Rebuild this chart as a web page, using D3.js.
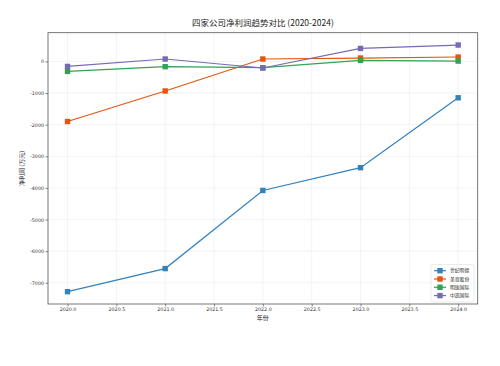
<!DOCTYPE html>
<html><head><meta charset="utf-8">
<script src="https://cdn.jsdelivr.net/npm/d3@7"></script>
<style>body{margin:0;background:#fff;} text{font-family:"Noto Sans CJK SC","DejaVu Sans",sans-serif;}</style>
</head><body>
<svg id="c" width="500" height="366"></svg>
<script>
const years = [2020, 2021, 2022, 2023, 2024];
const seriesNames = ["世纪明德", "美育股份", "明珠国际", "中凯国际"];
const shijiMingde = [-7280, -6550, -4080, -3360, -1150];
const meiyu = [-1900, -935, 76, 107, 139];
const mingzhu = [-316, -167, -199, 32, 11];
const zhongkai = [-158, 76, -208, 411, 518];
const colors = ["#3182bd", "#e6550d", "#31a354", "#756bb1"];
const yTicks = [-7000, -6000, -5000, -4000, -3000, -2000, -1000, 0];
const xTicks = [2020, 2020.5, 2021, 2021.5, 2022, 2022.5, 2023, 2023.5, 2024];
const title = "四家公司净利润趋势对比 (2020-2024)";
const xLabel = "年份", yLabel = "净利润 (万元)";

const allSeries = [shijiMingde, meiyu, mingzhu, zhongkai];
const L = 48, R = 477.7, T = 32.7, B = 304;
const svg = d3.select("#c");
const allVals = allSeries.flat();
const ymin = d3.min(allVals), ymax = d3.max(allVals);
const ym = (ymax - ymin) * 0.05;
const x = d3.scaleLinear().domain([2019.8, 2024.2]).range([L, R]);
const y = d3.scaleLinear().domain([ymin - ym, ymax + ym]).range([B, T]);

// grid
const g = svg.append("g");
g.selectAll(".gx").data(xTicks).enter().append("line")
 .attr("x1", d => x(d)).attr("x2", d => x(d)).attr("y1", T).attr("y2", B)
 .attr("stroke", "#ebebeb").attr("stroke-width", 0.6);
g.selectAll(".gy").data(yTicks).enter().append("line")
 .attr("y1", d => y(d)).attr("y2", d => y(d)).attr("x1", L).attr("x2", R)
 .attr("stroke", "#ebebeb").attr("stroke-width", 0.6);

// axes
const xAxis = svg.append("g").attr("transform", `translate(0,${B})`)
 .call(d3.axisBottom(x).tickValues(xTicks).tickFormat(d3.format(".1f")).tickSize(2.5).tickSizeOuter(0));
const yAxis = svg.append("g").attr("transform", `translate(${L},0)`)
 .call(d3.axisLeft(y).tickValues(yTicks).tickFormat(d => d).tickSize(2.5).tickSizeOuter(0));
[xAxis, yAxis].forEach(a => {
  a.select(".domain").remove();
  a.selectAll(".tick line").attr("stroke", "#333").attr("stroke-width", 0.6);
  a.selectAll(".tick text").attr("font-size", 4.8).attr("fill", "#333")
   .style("font-family", "'DejaVu Sans',sans-serif");
});
xAxis.selectAll(".tick text").attr("dy", "0.9em").attr("y", 3);
yAxis.selectAll(".tick text").attr("x", -4);

svg.append("rect").attr("x", L).attr("y", T).attr("width", R - L).attr("height", B - T)
 .attr("fill", "none").attr("stroke", "#555").attr("stroke-width", 0.8);

// lines
const line = d3.line().x((d, i) => x(years[i])).y(d => y(d));
allSeries.forEach((s, k) => {
  svg.append("path").datum(s).attr("d", line).attr("fill", "none")
   .attr("stroke", colors[k]).attr("stroke-width", 1.2);
  svg.selectAll(".m" + k).data(s).enter().append("rect")
   .attr("x", (d, i) => x(years[i]) - 2.7).attr("y", d => y(d) - 2.7)
   .attr("width", 5.4).attr("height", 5.4).attr("fill", colors[k]);
});

// title and labels
svg.append("text").attr("x", (L + R) / 2).attr("y", 26).attr("text-anchor", "middle")
 .attr("font-size", 8.5).attr("fill", "#222").text(title);
svg.append("text").attr("x", (L + R) / 2).attr("y", 320).attr("text-anchor", "middle")
 .attr("font-size", 6).attr("fill", "#222").text(xLabel);
svg.append("text").attr("transform", `translate(24,${(T + B) / 2}) rotate(-90)`)
 .attr("text-anchor", "middle").attr("font-size", 6).attr("fill", "#222").text(yLabel);

// legend
const lx = 431, ly = 264.5, lw = 43, lh = 37.5;
svg.append("rect").attr("x", lx).attr("y", ly).attr("width", lw).attr("height", lh)
 .attr("fill", "#fff").attr("fill-opacity", 0.85).attr("stroke", "#ddd").attr("stroke-width", 0.6).attr("rx", 1.5);
seriesNames.forEach((n, k) => {
  const yy = ly + 6.2 + k * 8.3;
  svg.append("line").attr("x1", lx + 3).attr("x2", lx + 15).attr("y1", yy).attr("y2", yy)
   .attr("stroke", colors[k]).attr("stroke-width", 1.2);
  svg.append("rect").attr("x", lx + 9 - 2.7).attr("y", yy - 2.7).attr("width", 5.4).attr("height", 5.4).attr("fill", colors[k]);
  svg.append("text").attr("x", lx + 19).attr("y", yy + 1.7).attr("font-size", 4.8).attr("fill", "#222").text(n);
});
</script>
</body></html>
